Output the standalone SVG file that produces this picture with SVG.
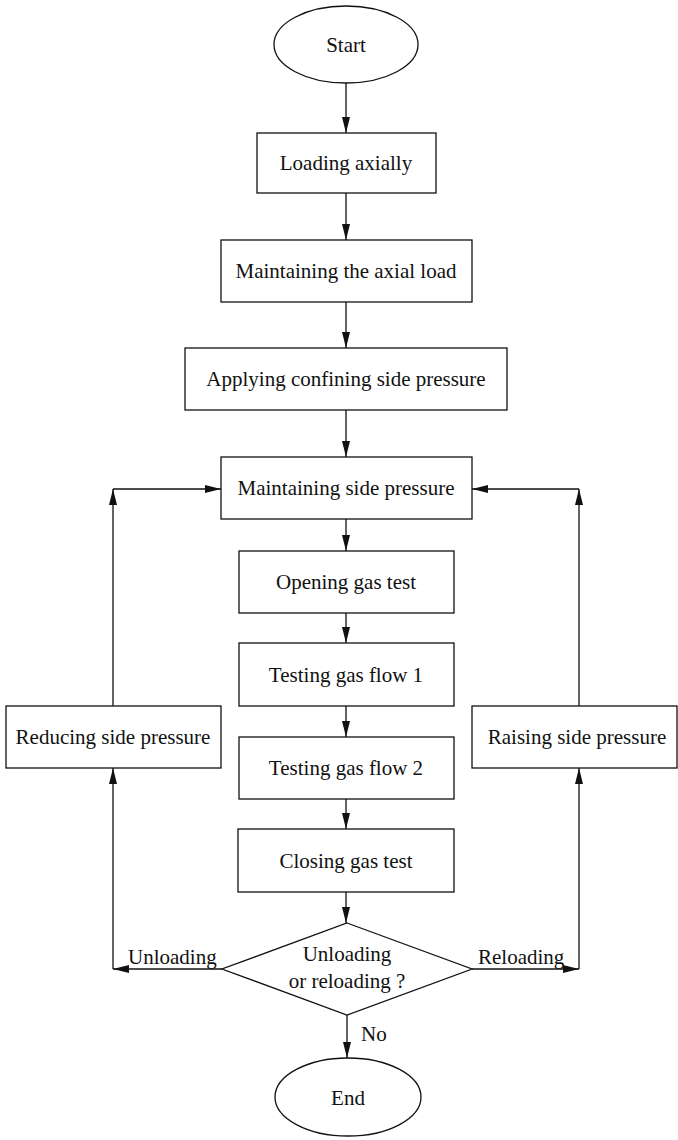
<svg xmlns="http://www.w3.org/2000/svg" width="678" height="1140" viewBox="0 0 678 1140">
<defs>
<marker id="ah" markerUnits="userSpaceOnUse" markerWidth="16" markerHeight="8" refX="16" refY="4" orient="auto">
<path d="M0,0 L16,4 L0,8 z" fill="#111"/>
</marker>
<style>
.n{fill:#fff;stroke:#111;stroke-width:1.3}
.t{font-family:"Liberation Serif","Times New Roman",serif;font-size:21px;fill:#111;text-anchor:middle}
.l{font-family:"Liberation Serif","Times New Roman",serif;font-size:21px;fill:#111}
.c{fill:none;stroke:#111;stroke-width:1.3;marker-end:url(#ah)}
</style>
</defs>
<rect width="678" height="1140" fill="#fff"/>
<g id="connectors">
<path class="c" d="M346,83 V133"/>
<path class="c" d="M346,193 V240"/>
<path class="c" d="M346,302 V348"/>
<path class="c" d="M346,410 V457"/>
<path class="c" d="M346,519 V551"/>
<path class="c" d="M346,613 V643"/>
<path class="c" d="M346,706 V737"/>
<path class="c" d="M346,799 V829"/>
<path class="c" d="M346,892 V923"/>
<path class="c" d="M347,1015 V1058"/>
<path class="c" d="M222,969 H113"/>
<path class="c" d="M113,969 V768"/>
<path class="c" d="M113,706 V489"/>
<path class="c" d="M113,489 H221"/>
<path class="c" d="M472,969 H579"/>
<path class="c" d="M579,969 V768"/>
<path class="c" d="M579,706 V489"/>
<path class="c" d="M579,489 H472"/>
<text class="l" x="128" y="964">Unloading</text>
<text class="l" x="478" y="964">Reloading</text>
<text class="l" x="361" y="1041">No</text>
</g>
<g id="start"><ellipse class="n" cx="346" cy="44.5" rx="72" ry="38.5"/><text class="t" x="346" y="52">Start</text></g>
<g id="loading"><rect class="n" x="257" y="133" width="179" height="60"/><text class="t" x="346" y="170">Loading axially</text></g>
<g id="maintain-axial"><rect class="n" x="221" y="240" width="251" height="62"/><text class="t" x="346" y="278">Maintaining the axial load</text></g>
<g id="applying"><rect class="n" x="185" y="348" width="322" height="62"/><text class="t" x="346" y="386">Applying confining side pressure</text></g>
<g id="maintain-side"><rect class="n" x="221" y="457" width="251" height="62"/><text class="t" x="346" y="495">Maintaining side pressure</text></g>
<g id="opening"><rect class="n" x="239" y="551" width="215" height="62"/><text class="t" x="346" y="589">Opening gas test</text></g>
<g id="flow1"><rect class="n" x="239" y="643" width="215" height="63"/><text class="t" x="346" y="682">Testing gas flow 1</text></g>
<g id="flow2"><rect class="n" x="239" y="737" width="215" height="62"/><text class="t" x="346" y="775">Testing gas flow 2</text></g>
<g id="closing"><rect class="n" x="238" y="829" width="216" height="63"/><text class="t" x="346" y="868">Closing gas test</text></g>
<g id="reducing"><rect class="n" x="6" y="706" width="215" height="62"/><text class="t" x="113" y="744">Reducing side pressure</text></g>
<g id="raising"><rect class="n" x="472" y="706" width="205" height="62"/><text class="t" x="577" y="744">Raising side pressure</text></g>
<g id="decision"><path class="n" d="M347,923 L472,969 L347,1015 L222,969 Z"/><text class="t" x="347" y="961">Unloading</text><text class="t" x="347" y="988">or reloading ?</text></g>
<g id="end"><ellipse class="n" cx="348" cy="1097" rx="73" ry="39"/><text class="t" x="348" y="1105">End</text></g>
</svg>
